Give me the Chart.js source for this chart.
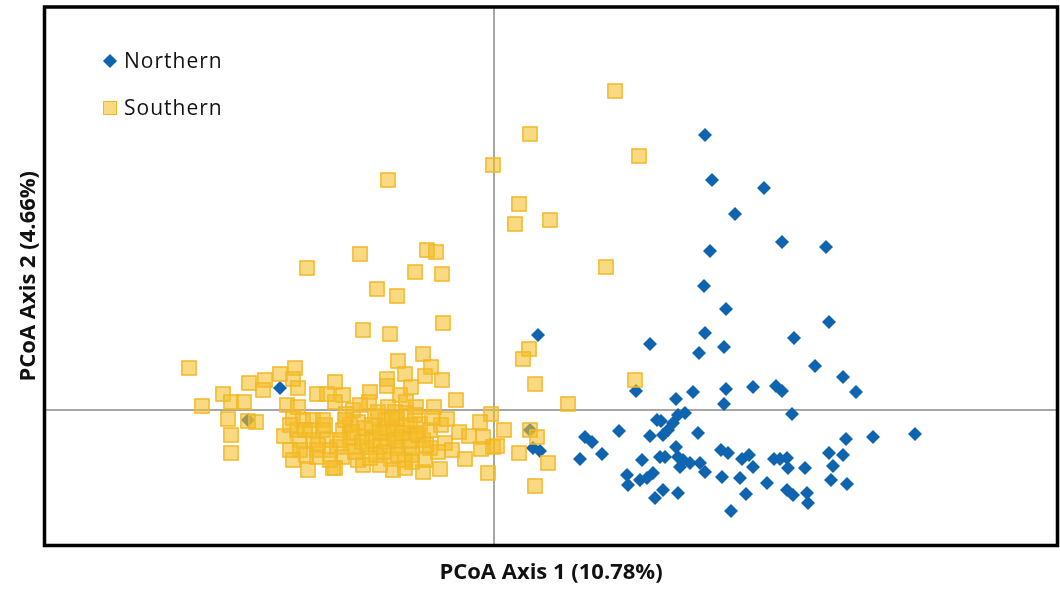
<!DOCTYPE html>
<html>
<head>
<meta charset="utf-8">
<script src="https://cdn.jsdelivr.net/npm/chart.js@4.4.1/dist/chart.umd.min.js"></script>
<style>
  html, body { margin: 0; padding: 0; background: #ffffff; }
  #wrap { position: relative; width: 1060px; height: 589px; }
  #c { position: absolute; left: 0; top: 0; }
  #legend { position: absolute; left: 0; top: 0; font-family: 'Open Sans', sans-serif; font-size: 21px; color: #111; }
  .row { position: absolute; left: 0; height: 30px; width: 200px; line-height: 28px; }
  .row .txt { position: absolute; left: 124px; top: 0; white-space: nowrap; letter-spacing: 1px; }
  .mk { position: absolute; box-sizing: border-box; }
</style>
</head>
<body>
<div id="wrap">
  <canvas id="c" width="1060" height="589"></canvas>
  <div id="legend"></div>
</div>
<script>
// PCoA scores (in thousandths)
const seriesNames = ["Northern", "Southern"];
const axisTitleX = "PCoA Axis 1 (10.78%)";
const axisTitleY = "PCoA Axis 2 (4.66%)";

const northernX = [211,218,270,241,288,332,216,210,232,335,211,230,205,156,300,321,349,362,44,142,
  36,39,46,91,98,125,108,86,133,134,146,163,-214,-246,199,232,259,282,288,182,
  230,298,191,184,167,179,174,204,156,169,421,379,352,335,349,339,337,353,227,234,
  248,255,259,280,286,293,294,311,182,184,189,196,186,206,211,228,246,273,166,171,
  148,159,153,169,161,184,252,293,299,313,314,237];
const northernY = [275,230,222,196,168,163,159,124,101,88,77,63,57,66,72,44,33,18,75,19,
  -20,-38,-41,-27,-32,-21,-44,-49,-65,-75,-70,-10,22,-10,18,21,23,24,19,11,
  6,-4,-3,-5,-11,-13,-20,-23,-26,-25,-24,-27,-29,-43,-45,-56,-70,-74,-40,-43,
  -49,-45,-57,-49,-49,-48,-58,-58,-37,-47,-50,-53,-57,-53,-62,-67,-68,-73,-47,-47,
  -50,-63,-68,-80,-88,-83,-84,-80,-85,-83,-93,-101];

const southernX = [121,36,145,-1,-106,25,21,56,112,-134,-187,-67,-58,-79,-52,-117,-97,-51,-131,-104,
  -71,-96,-63,-89,-69,-52,-107,-107,-83,-159,-151,-124,-125,-94,-88,-78,-60,-38,-106,-141,
  -159,-3,-14,-53,-47,-119,-99,-88,-136,-151,-35,-25,-11,-1,-13,-49,-64,-71,-85,-97,
  -114,-127,-141,-157,-144,-127,-111,-101,-91,-79,-29,-89,-103,-136,-152,-159,-101,-89,-71,-54,
  -6,-131,-114,-305,-199,-214,-229,-245,-201,-231,-196,-271,-263,-250,-292,-207,-196,-177,-167,-266,
  -246,-238,-201,-263,-210,-263,-204,-186,-161,-191,-181,-171,-197,-184,-171,-194,-181,-167,-194,-177,
  -164,-201,-177,-164,35,29,41,74,141,10,36,43,3,25,54,41,
  -144,-129,-122,-106,-96,-84,-74,-64,-109,-134,-148,-97,-118,-82,-139,-69,-56,-42,
  -149,-142,-132,-122,-114,-106,-99,-92,-84,-76,-68,-110,-124,-96,-82,-154,-116,-102,-189,-176,
  -204,-188,-169,-79,-62];
const southernY = [319,276,254,245,230,206,186,190,143,156,142,160,158,138,136,121,114,87,80,76,
  56,49,43,36,34,30,31,24,23,28,15,18,8,15,8,3,3,10,3,0,
  8,-4,-12,-15,-9,-6,-2,-3,-12,-20,-22,-26,-27,-37,-39,-33,-38,-30,-37,-38,
  -37,-37,-37,-37,-27,-27,-23,-20,-17,-23,-49,-50,-49,-50,-47,-58,-60,-58,-62,-59,
  -63,-55,-55,42,42,36,30,27,31,20,22,16,8,8,4,5,3,16,16,-9,
  -11,-12,-8,-25,-26,-43,-40,-60,-58,-10,-10,-10,-20,-20,-20,-30,-30,-30,-40,-40,
  -40,-50,-47,-50,61,51,26,6,30,-20,-20,-27,-36,-43,-53,-76,
  -15,-18,-30,-32,-27,-30,-14,-20,-10,5,-4,-9,-45,-45,-42,-50,-42,-40,
  -10,-22,-32,-15,-22,-18,-30,-23,-15,-25,-35,-42,-48,-45,-52,-30,-2,-8,-20,-35,
  -15,-45,-15,-5,-8];

const UNIT = 1000;
const toPoints = (xs, ys) => xs.map((v, i) => ({ x: v / UNIT, y: ys[i] / UNIT }));

const BLUE = '#0f64b0';
const YELLOW_FILL = 'rgba(245,190,38,0.58)';
const YELLOW_LINE = '#f3b828';

const framePlugin = {
  id: 'frame',
  beforeDatasetsDraw(chart) {
    const { ctx, chartArea: a, scales } = chart;
    const x0 = scales.x.getPixelForValue(0);
    const y0 = scales.y.getPixelForValue(0);
    ctx.save();
    ctx.strokeStyle = '#a6a6a6';
    ctx.lineWidth = 2;
    ctx.beginPath();
    ctx.moveTo(x0, a.top); ctx.lineTo(x0, a.bottom);
    ctx.moveTo(a.left, y0); ctx.lineTo(a.right, y0);
    ctx.stroke();
    ctx.restore();
  },
  afterDraw(chart) {
    const { ctx, chartArea: a } = chart;
    ctx.save();
    ctx.strokeStyle = '#000';
    ctx.lineWidth = 3.5;
    ctx.strokeRect(a.left, a.top, a.right - a.left, a.bottom - a.top);
    ctx.restore();
  }
};

const chart = new Chart(document.getElementById('c'), {
  type: 'scatter',
  data: {
    datasets: [
      {
        label: seriesNames[0],
        data: toPoints(northernX, northernY),
        pointStyle: 'rectRot',
        pointRadius: 7,
        backgroundColor: BLUE,
        borderColor: BLUE,
        borderWidth: 0,
        order: 1
      },
      {
        label: seriesNames[1],
        data: toPoints(southernX, southernY),
        pointStyle: 'rect',
        pointRadius: 10,
        backgroundColor: YELLOW_FILL,
        borderColor: YELLOW_LINE,
        borderWidth: 1.5,
        order: 0
      }
    ]
  },
  options: {
    responsive: false,
    animation: false,
    events: [],
    layout: { autoPadding: false, padding: { top: 7, right: 2.5, bottom: 0, left: 0 } },
    plugins: { legend: { display: false }, tooltip: { enabled: false } },
    scales: {
      x: {
        type: 'linear',
        min: -0.4495, max: 0.5635,
        grid: { display: false, drawTicks: false },
        border: { display: false },
        ticks: { display: false },
        title: {
          display: true, text: axisTitleX, color: '#111',
          font: { family: "'Open Sans'", size: 22, weight: 'bold', lineHeight: 1.2 },
          padding: { top: 14.5, bottom: 2.6 }
        }
      },
      y: {
        type: 'linear',
        min: -0.1355, max: 0.403,
        grid: { display: false, drawTicks: false },
        border: { display: false },
        ticks: { display: false },
        title: {
          display: true, text: axisTitleY, color: '#111',
          font: { family: "'Open Sans'", size: 22, weight: 'bold', lineHeight: 1.2 },
          padding: { top: 16, bottom: 2.1 }
        }
      }
    }
  },
  plugins: [framePlugin]
});

// HTML legend built from the chart's datasets
const legend = document.getElementById('legend');
chart.data.datasets.forEach((ds, i) => {
  const row = document.createElement('div');
  row.className = 'row';
  row.style.top = (46 + i * 47) + 'px';
  const mk = document.createElement('span');
  mk.className = 'mk';
  if (ds.pointStyle === 'rectRot') {
    Object.assign(mk.style, { left: '105px', top: '10px', width: '10px', height: '10px', background: ds.backgroundColor, transform: 'rotate(45deg)' });
  } else {
    Object.assign(mk.style, { left: '103px', top: '8px', width: '14px', height: '14px', background: ds.backgroundColor, border: '1.5px solid ' + ds.borderColor });
  }
  const txt = document.createElement('span');
  txt.className = 'txt';
  txt.textContent = ds.label;
  row.appendChild(mk);
  row.appendChild(txt);
  legend.appendChild(row);
});
</script>
</body>
</html>
